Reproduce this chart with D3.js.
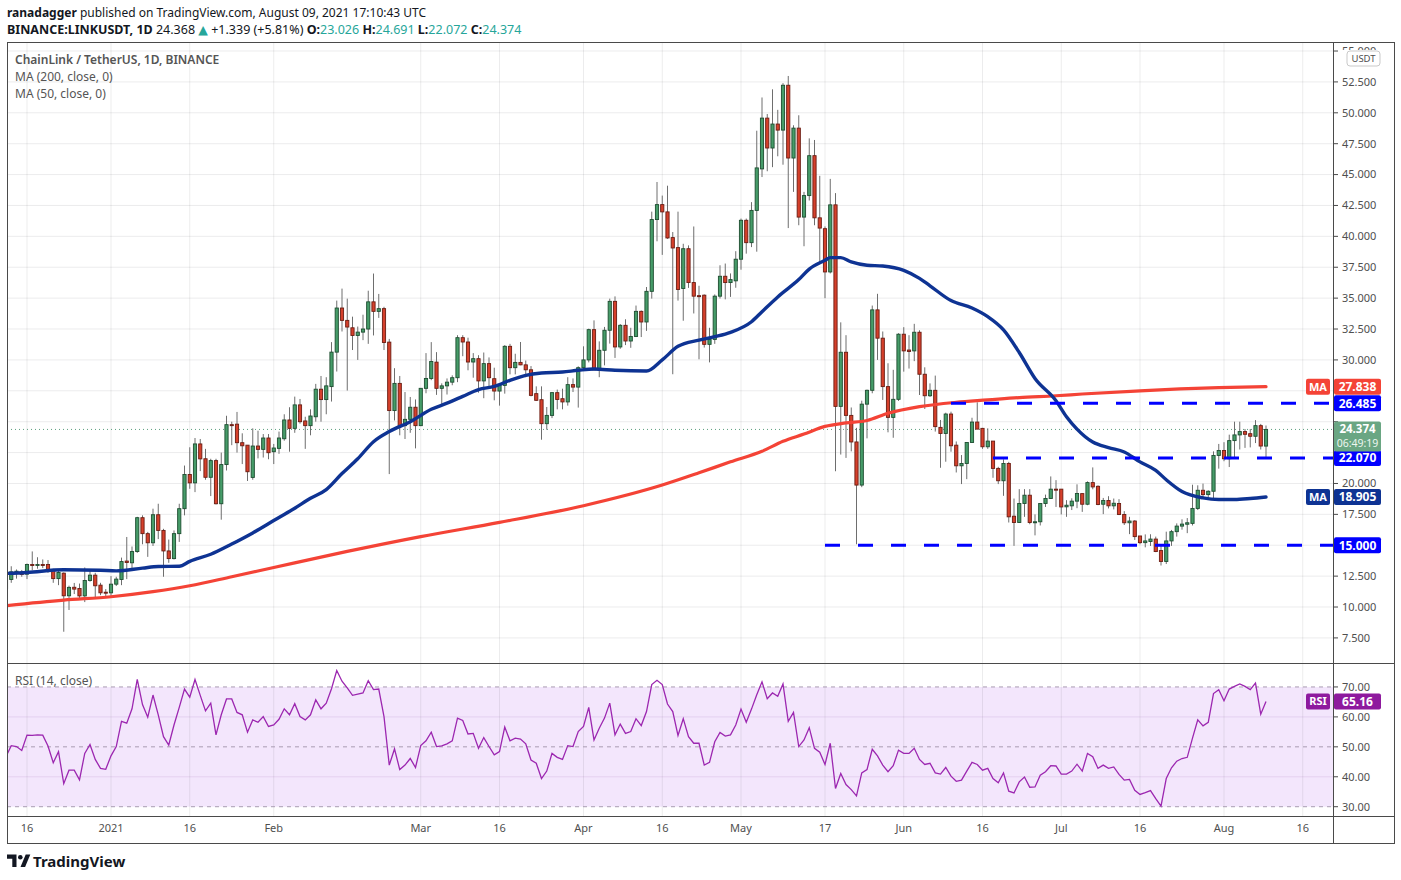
<!DOCTYPE html>
<html>
<head>
<meta charset="utf-8">
<script src="https://cdn.jsdelivr.net/npm/d3@7"></script>
<style>
  body { margin: 0; background: #fff; }
  text { font-family: "Noto Sans", "DejaVu Sans", sans-serif; }
</style>
</head>
<body>
<div class="canvas"></div>
<script>
// DAILY CANDLES [open, high, low, close], first day 2020-12-12
const firstDay = "2020-12-12";

const candlesDec = [
  [11.5,12.3,11.4,12.2],[12.23,13.3,11.96,12.85],[12.85,13.04,12.3,12.9],[12.83,13.0,12.45,12.64],[12.66,13.52,12.26,13.44],
  [13.44,14.5,12.98,13.42],[13.42,14.03,13.1,13.44],[13.44,13.85,13.15,13.42],[13.44,13.8,12.77,12.98],[12.98,13.1,11.96,12.3],
  [12.3,12.95,11.77,12.8],[12.74,12.8,8.0,10.91],[10.91,11.73,9.76,11.59],[11.6,11.95,11.05,11.45],[11.5,11.9,10.6,10.9],
  [10.9,13.2,10.4,12.15],[12.15,13.06,12.05,12.58],[12.58,12.77,10.7,11.72],[11.77,11.96,10.96,11.15],[11.2,11.45,10.83,11.15]
];
const candlesJan = [
  [11.15,12.5,10.83,11.85],[11.85,12.45,11.7,12.26],[12.23,14.0,11.77,13.68],[13.72,15.67,12.26,13.6],[13.58,14.9,12.98,14.49],
  [14.49,17.3,14.38,17.23],[17.23,17.42,15.08,15.94],[15.94,16.08,14.06,15.2],[15.2,17.96,14.94,17.47],[17.47,18.36,15.5,16.2],
  [16.2,16.33,12.45,14.54],[14.54,15.46,13.58,13.92],[13.92,16.2,13.85,15.94],[15.94,18.36,15.27,17.96],[17.96,21.45,17.42,20.73],
  [20.73,22.93,19.57,20.05],[20.05,23.68,19.3,23.2],[23.2,23.6,21.0,21.99],[22.0,22.8,20.3,20.5],[20.5,22.0,18.98,21.85],
  [21.85,22.0,18.3,18.36],[18.36,22.5,17.07,21.53],[21.53,25.48,21.05,24.76],[24.76,25.0,23.1,24.72],[24.8,25.79,22.5,23.3],
  [23.3,24.06,21.57,23.05],[23.1,23.1,20.2,20.95],[20.49,24.46,20.3,23.03],[23.03,24.27,22.03,22.76],[22.76,24.0,22.1,23.68],
  [23.68,24.0,21.96,22.49]
];
const candlesFeb = [
  [22.57,23.2,21.57,22.87],[22.84,24.2,22.4,23.68],[23.62,25.6,23.46,25.14],[25.14,26.17,22.57,24.46],[24.46,27.03,24.1,26.36],
  [26.36,26.84,24.84,25.0],[25.06,25.4,22.8,24.68],[24.68,26.0,23.9,25.46],[25.4,28.06,25.0,27.63],[27.63,28.7,25.0,26.79],
  [26.79,28.6,25.6,27.9],[27.84,31.44,26.63,30.63],[30.63,34.8,29.06,34.2],[34.2,35.77,32.3,33.2],[33.2,34.96,27.52,32.66],
  [32.6,33.5,30.8,31.98],[31.98,32.7,30.0,32.25],[32.25,33.66,31.6,32.5],[32.5,35.6,31.3,34.7],[34.7,36.99,31.98,33.93],
  [33.93,35.34,33.4,34.15],[34.15,34.3,30.8,31.41],[31.44,31.7,20.76,25.9],[25.9,29.33,25.1,28.1],[28.1,28.7,23.9,24.68],
  [24.68,27.4,23.6,25.19],[25.19,27.0,24.1,26.17],[26.17,26.8,22.84,24.68]
];
const candlesMar = [
  [24.68,27.7,24.64,27.7],[27.7,30.55,27.3,28.5],[28.5,31.44,28.36,29.87],[29.82,30.63,27.17,27.7],[27.7,28.1,26.36,27.9],
  [27.9,28.5,27.2,28.2],[28.2,28.75,27.95,28.56],[28.56,32.0,28.2,31.8],[31.8,32.0,30.3,31.45],[31.45,31.8,29.16,29.83],
  [29.83,30.55,28.56,30.1],[30.1,30.38,27.35,28.3],[28.3,30.6,26.9,29.7],[29.7,30.2,27.8,28.56],[28.48,29.37,26.73,27.48],
  [27.48,27.75,26.3,27.94],[27.94,31.2,27.27,31.1],[31.1,31.3,28.83,29.37],[29.37,30.5,28.83,29.8],[29.8,31.45,29.57,29.6],
  [29.6,29.95,28.6,29.2],[29.2,29.5,27.05,27.13],[27.27,27.86,26.68,26.73],[26.78,27.86,23.54,24.84],[24.84,26.19,24.35,25.51],
  [25.51,27.4,25.29,27.35],[27.35,27.6,26.0,26.8],[26.86,27.67,26.0,26.6],[26.6,28.6,26.3,28.0],[28.0,28.5,27.4,27.8],
  [27.8,29.48,26.14,29.37]
];
const candlesApr = [
  [29.37,31.1,29.2,30.0],[30.0,32.53,29.8,32.45],[32.45,33.2,29.16,29.2],[29.2,31.5,28.6,30.78],[30.78,32.67,29.56,32.4],
  [32.4,34.96,31.32,34.74],[34.74,35.14,30.16,31.05],[31.05,32.9,30.9,32.8],[32.8,33.29,31.2,31.53],[31.53,32.6,30.98,31.9],
  [31.9,34.4,31.85,33.93],[33.93,34.0,31.85,33.07],[33.07,35.9,32.35,35.55],[35.55,42.0,34.96,41.36],[41.36,44.4,39.6,42.57],
  [42.57,43.3,38.5,41.98],[41.98,44.1,39.8,39.87],[39.9,40.35,28.84,39.06],[39.09,42.0,34.8,35.7],[35.78,39.4,33.17,39.0],
  [39.0,39.27,35.83,36.26],[36.26,40.8,33.76,35.16],[35.2,36.0,30.05,35.18],[35.24,35.3,31.0,31.26],[31.26,32.6,29.8,31.66],
  [31.66,35.3,31.3,35.16],[35.16,37.66,34.97,36.77],[36.77,37.8,34.9,36.26],[36.26,37.0,35.1,36.5],[36.4,38.8,35.84,38.15]
];
const candlesMay = [
  [38.15,41.44,37.3,41.3],[41.3,41.44,38.6,39.49],[39.49,42.77,39.13,42.1],[42.1,48.55,38.76,45.54],[45.46,51.24,44.8,49.57],
  [49.57,49.9,45.27,47.15],[47.15,51.9,45.6,49.09],[49.09,50.24,46.48,48.6],[48.6,52.4,45.8,52.23],[52.23,52.98,40.67,46.34],
  [46.34,48.99,43.6,48.76],[48.76,49.8,40.9,41.56],[41.56,43.6,39.2,43.3],[43.3,47.93,42.9,46.53],[46.53,47.8,40.9,41.5],
  [41.5,44.9,37.93,40.67],[40.62,40.8,35.0,37.12],[37.12,44.65,37.0,42.55],[42.55,43.5,20.99,26.24],[26.24,33.04,22.34,30.62],
  [30.62,32.0,22.07,25.51],[25.51,26.15,22.6,23.36],[23.36,24.5,15.08,19.87],[19.87,26.7,19.7,26.42],[26.42,27.6,23.65,27.54],
  [27.54,34.4,27.3,34.05],[34.05,35.35,30.0,31.76],[31.76,32.3,26.76,27.84],[27.84,29.73,24.14,25.35],[25.35,29.2,23.7,26.81],
  [26.81,32.16,26.68,32.08]
];
const candlesJun = [
  [32.08,32.65,29.05,30.73],[30.8,32.0,29.3,30.68],[30.73,32.92,29.9,32.24],[32.24,32.4,27.16,28.84],[28.84,29.4,26.03,27.1],
  [27.1,28.1,27.0,27.54],[27.54,28.73,24.2,24.6],[24.54,25.14,21.27,24.05],[24.05,25.73,21.76,25.62],[25.62,25.81,22.57,23.05],
  [23.1,23.4,20.89,21.43],[21.43,22.3,19.95,21.62],[21.62,23.32,20.35,23.32],[23.32,25.32,23.3,24.97],[24.97,26.57,24.4,24.4],
  [24.46,24.5,22.8,22.97],[22.97,24.46,22.8,23.43],[23.43,23.43,20.46,21.22],[21.22,21.35,19.95,20.22],[20.22,21.95,19.0,21.62],
  [21.62,21.75,16.84,17.3],[17.35,18.78,14.95,16.84],[16.84,19.54,16.84,18.38],[18.38,19.54,17.3,19.05],[19.05,19.54,16.7,16.84],
  [16.89,17.5,15.8,16.9],[16.9,18.38,16.6,18.38],[18.38,19.1,18.1,18.78],[18.78,20.57,18.78,19.54],[19.54,20.27,18.1,19.49]
];
const candlesJul = [
  [19.54,19.54,17.5,18.1],[18.11,18.65,17.3,18.24],[18.19,18.8,17.85,18.57],[18.57,19.93,18.0,19.19],[19.18,19.18,17.7,18.32],
  [18.32,20.17,18.24,20.07],[20.07,21.3,19.53,19.72],[19.77,19.85,18.24,18.3],[18.32,18.83,17.52,18.62],[18.62,18.97,17.98,18.19],
  [18.19,18.78,17.9,18.4],[18.38,18.73,17.44,17.49],[17.49,17.76,16.64,16.82],[16.82,17.3,15.9,16.96],[16.96,17.03,15.43,15.7],
  [15.75,15.75,15.08,15.21],[15.21,15.88,14.83,15.35],[15.3,15.89,14.94,15.5],[15.5,15.7,14.44,14.49],[14.57,14.97,13.36,13.69],
  [13.69,16.1,13.48,15.35],[15.35,16.24,14.95,16.1],[16.1,16.77,15.7,16.55],[16.55,17.1,16.26,16.71],[16.7,17.2,15.98,16.82],
  [16.77,19.9,16.6,17.98],[17.98,19.85,17.85,19.45],[19.45,19.99,18.91,19.1],[19.1,19.45,18.9,19.37],[19.37,22.6,18.78,22.27],
  [22.27,23.2,21.2,22.67]
];
const candlesAug = [
  [22.67,23.34,21.8,22.0],[22.0,23.95,21.33,23.47],[23.47,25.0,22.0,23.93],[23.93,25.0,22.75,24.2],[24.2,24.41,22.88,23.98],
  [24.03,24.41,22.92,23.82],[23.82,25.13,23.27,24.68],[24.68,24.82,22.75,23.03],[23.026,24.691,22.072,24.374]
];

// RSI (14) one value per day, same days as the candles
const rsiValues = [
  46.7,50.4,50.1,48.8,53.9,53.8,54.0,53.9,50.3,44.7, 48.4,37.7,42.2,42.2,39.0,47.8,50.8,45.8,42.8,42.5,
  47.0,50.1,58.5,57.9,62.7,72.5,64.1,59.9,67.3,60.7, 53.4,50.6,57.3,63.2,69.3,66.6,72.5,67.2,62.0,64.6,
  54.0,60.7,66.0,66.0,61.5,60.7,54.9,59.0,58.2,60.1, 56.8,57.3,59.2,62.7,60.7,64.4,60.1,59.0,60.7,65.7,
  62.7,64.6,69.4,75.5,71.9,69.7,67.2,67.6,68.0,72.1, 69.1,69.3,60.1,43.9,49.3,42.4,43.9,46.1,43.1,50.4,
  52.0,54.9,50.1,50.3,51.0,52.0,59.6,58.8,54.3,54.5, 49.5,53.1,50.1,47.3,48.4,56.6,52.0,52.9,52.6,51.0,
  45.6,44.5,39.4,41.9,47.8,46.5,45.8,50.4,50.1,55.1, 56.8,63.2,52.3,56.2,59.6,64.6,54.0,57.6,54.5,55.1,
  59.4,57.1,61.8,70.8,72.2,
  70.8,64.3,61.8,53.8,59.4,53.4,51.2,51.2,43.9,44.8, 51.7,54.8,53.6,54.0,57.3,62.6,58.2,62.6,67.4,71.7,
  66.1,68.0,66.9,71.0,58.5,61.5,50.1,52.3,56.4,49.5, 48.2,44.1,51.2,36.1,41.1,37.4,35.7,33.6,41.3,42.4,
  49.2,47.0,43.9,41.7,43.7,48.9,47.8,47.8,49.5,45.8, 44.1,44.5,41.3,40.9,43.1,40.2,38.5,38.9,41.9,44.8,
  44.1,42.2,42.8,39.4,38.0,41.3,35.2,34.6,38.3,39.9, 36.5,36.6,40.5,41.7,43.7,43.6,40.9,40.9,41.9,44.2,
  41.9,47.8,46.7,42.8,43.9,42.8,43.3,40.8,38.9,39.1, 35.5,34.1,34.7,35.4,32.7,30.2,39.4,43.0,45.2,46.1,
  46.5,52.9,59.0,57.0,58.2,67.8,69.1,65.4,69.3,70.2, 71.0,70.2,69.1,71.3,60.9,65.16
];

// MOVING AVERAGES [date, value]
const ma50 = [
  ["2020-12-12",12.72],["2020-12-16",12.8],["2020-12-23",13.02],["2020-12-30",12.98],["2021-01-02",12.93],
  ["2021-01-07",13.15],["2021-01-10",13.28],["2021-01-14",13.3],["2021-01-16",13.7],["2021-01-20",14.27],
  ["2021-01-24",15.1],["2021-01-28",16.0],["2021-02-01",17.0],["2021-02-05",18.0],["2021-02-08",18.8],
  ["2021-02-11",19.5],["2021-02-14",20.8],["2021-02-17",22.0],["2021-02-20",23.38],["2021-02-23",24.2],
  ["2021-02-27",25.0],["2021-03-03",26.0],["2021-03-06",26.5],["2021-03-09",27.05],["2021-03-12",27.6],
  ["2021-03-15",27.86],["2021-03-18",28.35],["2021-03-21",28.75],["2021-03-24",28.94],["2021-03-28",29.02],
  ["2021-03-31",29.16],["2021-04-03",29.26],["2021-04-07",29.16],["2021-04-13",29.1],["2021-04-16",30.0],
  ["2021-04-19",31.1],["2021-04-23",31.6],["2021-04-26",31.88],["2021-04-29",32.23],["2021-05-03",33.09],
  ["2021-05-05",33.9],["2021-05-08",35.1],["2021-05-12",36.5],["2021-05-14",37.35],["2021-05-17",38.06],
  ["2021-05-18",38.28],["2021-05-20",38.28],["2021-05-22",37.93],["2021-05-25",37.66],["2021-05-28",37.6],
  ["2021-06-01",37.25],["2021-06-04",36.6],["2021-06-06",36.0],["2021-06-10",34.8],["2021-06-14",34.2],
  ["2021-06-17",33.5],["2021-06-20",32.43],["2021-06-23",30.6],["2021-06-26",28.5],["2021-06-30",26.7],
  ["2021-07-02",25.4],["2021-07-04",24.4],["2021-07-07",23.35],["2021-07-10",22.9],["2021-07-13",22.55],
  ["2021-07-16",21.75],["2021-07-19",21.06],["2021-07-21",20.3],["2021-07-24",19.35],["2021-07-28",18.83],
  ["2021-07-31",18.7],["2021-08-03",18.7],["2021-08-06",18.78],["2021-08-09",18.905]
];
const ma200 = [
  ["2020-12-12",10.11],["2020-12-23",10.56],["2021-01-01",10.83],["2021-01-09",11.24],["2021-01-16",11.72],
  ["2021-01-24",12.45],["2021-02-01",13.2],["2021-02-15",14.5],["2021-03-01",15.7],["2021-03-16",16.85],
  ["2021-04-01",18.2],["2021-04-16",19.87],["2021-04-23",20.86],["2021-04-29",21.75],["2021-05-05",22.6],
  ["2021-05-09",23.41],["2021-05-13",24.0],["2021-05-17",24.62],["2021-05-21",24.9],["2021-05-25",25.1],
  ["2021-05-29",25.68],["2021-06-04",26.22],["2021-06-11",26.57],["2021-06-17",26.76],["2021-06-23",26.95],
  ["2021-06-30",27.1],["2021-07-05",27.24],["2021-07-16",27.5],["2021-07-31",27.75],["2021-08-09",27.838]
];

// HORIZONTAL LEVELS drawn by the author
const levelValues = [26.485, 22.070, 15.000];
const levelStarts = ["2021-06-10", "2021-06-18", "2021-05-17"];

// TICKS
const priceTicks = [7.5, 10, 12.5, 15, 17.5, 20, 22.5, 25, 27.5, 30, 32.5, 35, 37.5, 40, 42.5, 45, 47.5, 50, 52.5, 55];
const rsiTicks = [30, 40, 50, 60, 70];
const xTickDates = ["2020-12-16","2021-01-01","2021-01-16","2021-02-01","2021-03-01","2021-03-16","2021-04-01","2021-04-16",
                    "2021-05-01","2021-05-17","2021-06-01","2021-06-16","2021-07-01","2021-07-16","2021-08-01","2021-08-16"];
const xTickLabels = ["16","2021","16","Feb","Mar","16","Apr","16","May","17","Jun","16","Jul","16","Aug","16"];

const lastPrice = 24.374;
const lastMa200 = 27.838;
const lastMa50 = 18.905;
const lastRsi = 65.16;

// ---------------------------------------------------------------------------
const parse = d3.utcParse("%Y-%m-%d");
const ohlc = [].concat(candlesDec, candlesJan, candlesFeb, candlesMar, candlesApr, candlesMay, candlesJun, candlesJul, candlesAug);
const day0 = parse(firstDay);
const candles = ohlc.map((c, i) => ({ date: d3.utcDay.offset(day0, i), o: c[0], h: c[1], l: c[2], c: c[3] }));

// LAYOUT
const L = 7, R = 1333, OR = 1394, T = 42, MB = 663, RB = 816, XB = 843;

const svg = d3.select(".canvas").append("svg")
  .attr("width", 1401)
  .attr("height", 880);

const x = d3.scaleUtc()
  .domain([parse("2020-12-16"), parse("2021-08-16")])
  .range([27, 1302.75]);
const y = d3.scaleLinear().domain([5.47, 55.73]).range([MB, T]);
const yr = d3.scaleLinear().domain([26.9, 78.0]).range([RB, MB]);

const defs = svg.append("defs");
defs.append("clipPath").attr("id", "mainClip")
  .append("rect").attr("x", L).attr("y", T).attr("width", R - L).attr("height", MB - T);
defs.append("clipPath").attr("id", "rsiClip")
  .append("rect").attr("x", L).attr("y", MB).attr("width", R - L).attr("height", RB - MB);
defs.append("clipPath").attr("id", "axisTopClip")
  .append("rect").attr("x", R).attr("y", T).attr("width", OR - R).attr("height", 8);

// RSI BAND
svg.append("rect")
  .attr("x", L).attr("y", yr(70)).attr("width", R - L).attr("height", yr(30) - yr(70))
  .attr("fill", "#f3e6fc");

// GRID
const grid = svg.append("g");
grid.selectAll(".vg").data(xTickDates).enter().append("line")
  .attr("x1", d => x(parse(d))).attr("x2", d => x(parse(d)))
  .attr("y1", T).attr("y2", RB)
  .attr("stroke", "rgba(42,46,57,0.09)");
grid.selectAll(".hg").data(priceTicks).enter().append("line")
  .attr("x1", L).attr("x2", R).attr("y1", d => y(d)).attr("y2", d => y(d))
  .attr("stroke", "rgba(42,46,57,0.09)");
grid.selectAll(".rg").data([40, 60]).enter().append("line")
  .attr("x1", L).attr("x2", R).attr("y1", d => yr(d)).attr("y2", d => yr(d))
  .attr("stroke", "rgba(120,60,160,0.12)");
grid.selectAll(".rd").data([30, 50, 70]).enter().append("line")
  .attr("x1", L).attr("x2", R).attr("y1", d => yr(d)).attr("y2", d => yr(d))
  .attr("stroke", "#a99cb2").attr("stroke-dasharray", "4 4");

// MAIN PANE
const main = svg.append("g").attr("clip-path", "url(#mainClip)");

// last price dotted line
main.append("line")
  .attr("x1", L).attr("x2", R).attr("y1", y(lastPrice)).attr("y2", y(lastPrice))
  .attr("stroke", "#5b9e7e").attr("stroke-dasharray", "1 3");

// candles: wicks then bodies
main.selectAll(".wick").data(candles).enter().append("line")
  .attr("x1", d => x(d.date)).attr("x2", d => x(d.date))
  .attr("y1", d => y(d.h)).attr("y2", d => y(d.l))
  .attr("stroke", "#6e6e6e").attr("stroke-width", 1);

main.selectAll(".body").data(candles).enter().append("rect")
  .attr("x", d => x(d.date) - 1.6)
  .attr("width", 3.2)
  .attr("y", d => y(Math.max(d.o, d.c)))
  .attr("height", d => Math.max(1, Math.abs(y(d.o) - y(d.c))))
  .attr("fill", d => d.c >= d.o ? "#469c69" : "#d5402b")
  .attr("stroke", d => d.c >= d.o ? "#1d4d30" : "#6a1c12")
  .attr("stroke-width", 0.9);

// moving averages
const maLine = d3.line()
  .x(d => x(parse(d[0])))
  .y(d => y(d[1]))
  .curve(d3.curveMonotoneX);

main.append("path").datum(ma200)
  .attr("d", maLine).attr("fill", "none")
  .attr("stroke", "#f44336").attr("stroke-width", 3.2).attr("stroke-linecap", "round");
main.append("path").datum(ma50)
  .attr("d", maLine).attr("fill", "none")
  .attr("stroke", "#0e3393").attr("stroke-width", 3.4).attr("stroke-linecap", "round");

// horizontal levels
main.selectAll(".level").data(levelValues).enter().append("line")
  .attr("x1", (d, i) => x(parse(levelStarts[i]))).attr("x2", R)
  .attr("y1", d => y(d)).attr("y2", d => y(d))
  .attr("stroke", "#0000ff").attr("stroke-width", 3)
  .attr("stroke-dasharray", "15 18");

// RSI PANE
const rsiPane = svg.append("g").attr("clip-path", "url(#rsiClip)");
const rsiLine = d3.line()
  .x((d, i) => x(candles[i].date))
  .y(d => yr(d));
rsiPane.append("path").datum(rsiValues)
  .attr("d", rsiLine).attr("fill", "none")
  .attr("stroke", "#9c27b0").attr("stroke-width", 1.3);

// BORDERS
const frame = svg.append("g").attr("stroke", "#4a4a4a").attr("stroke-width", 1).attr("shape-rendering", "crispEdges");
frame.append("rect").attr("x", L).attr("y", T).attr("width", OR - L).attr("height", XB - T).attr("fill", "none");
frame.append("line").attr("x1", L).attr("x2", OR).attr("y1", MB).attr("y2", MB);
frame.append("line").attr("x1", L).attr("x2", OR).attr("y1", RB).attr("y2", RB);
frame.append("line").attr("x1", R).attr("x2", R).attr("y1", T).attr("y2", XB);

// PRICE AXIS (labels hidden where a value box sits on top, as on TradingView)
const axisText = "#4f4f4f";
const boxCentres = [lastMa200, levelValues[0], levelValues[1], lastMa50, levelValues[2]].map(y)
  .concat([y(lastPrice) + 6.5]);
const boxHalf = [8, 8, 8, 8, 8, 15];
const hidden = v => boxCentres.some((c, i) => Math.abs(y(v) - c) < boxHalf[i] + 2);

const pAxis = svg.append("g");
pAxis.selectAll(".pt").data(priceTicks).enter().append("line")
  .attr("x1", R).attr("x2", R + 5).attr("y1", d => y(d)).attr("y2", d => y(d))
  .attr("stroke", "#4a4a4a");
pAxis.selectAll(".pl").data(priceTicks.filter(v => !hidden(v))).enter().append("text")
  .attr("x", R + 9).attr("y", d => y(d)).attr("dy", "0.35em")
  .attr("font-size", 11).attr("fill", axisText)
  .attr("clip-path", d => d === 55 ? "url(#axisTopClip)" : null)
  .text(d3.format(".3f"));

// USDT badge
svg.append("rect").attr("x", 1347).attr("y", 51).attr("width", 33).attr("height", 15).attr("rx", 3)
  .attr("fill", "#fff").attr("stroke", "#c9c9c9");
svg.append("text").attr("x", 1363.5).attr("y", 58.5).attr("dy", "0.35em")
  .attr("text-anchor", "middle").attr("font-size", 9.5).attr("fill", axisText).text("USDT");

// RSI AXIS
const rAxis = svg.append("g");
rAxis.selectAll(".rt").data(rsiTicks).enter().append("line")
  .attr("x1", R).attr("x2", R + 5).attr("y1", d => yr(d)).attr("y2", d => yr(d))
  .attr("stroke", "#4a4a4a");
rAxis.selectAll(".rl").data(rsiTicks).enter().append("text")
  .attr("x", R + 9).attr("y", d => yr(d)).attr("dy", "0.35em")
  .attr("font-size", 11).attr("fill", axisText)
  .text(d3.format(".2f"));

// TIME AXIS
svg.selectAll(".xl").data(xTickDates).enter().append("text")
  .attr("x", d => x(parse(d))).attr("y", 828).attr("dy", "0.35em")
  .attr("text-anchor", "middle").attr("font-size", 11).attr("fill", axisText)
  .text((d, i) => xTickLabels[i]);

// AXIS LABEL BOXES
function valueBox(yPos, value, color, tag) {
  const g = svg.append("g");
  g.append("rect").attr("x", R + 1).attr("y", yPos - 8).attr("width", 47).attr("height", 16).attr("rx", 2)
    .attr("fill", color);
  g.append("text").attr("x", R + 24.5).attr("y", yPos).attr("dy", "0.36em")
    .attr("text-anchor", "middle").attr("font-size", 12).attr("font-weight", "bold").attr("fill", "#fff")
    .text(value);
  if (tag) {
    g.append("rect").attr("x", 1306).attr("y", yPos - 8).attr("width", 24).attr("height", 16).attr("rx", 2)
      .attr("fill", color);
    g.append("text").attr("x", 1318).attr("y", yPos).attr("dy", "0.36em")
      .attr("text-anchor", "middle").attr("font-size", 11).attr("font-weight", "bold").attr("fill", "#fff")
      .text(tag);
  }
}
const fmt3 = d3.format(".3f");
valueBox(y(lastMa200), fmt3(lastMa200), "#f44336", "MA");
valueBox(y(levelValues[0]), fmt3(levelValues[0]), "#0000ff");
valueBox(y(levelValues[1]), fmt3(levelValues[1]), "#0000ff");
valueBox(y(lastMa50), fmt3(lastMa50), "#0e3393", "MA");
valueBox(y(levelValues[2]), fmt3(levelValues[2]), "#0000ff");
valueBox(yr(lastRsi), d3.format(".2f")(lastRsi), "#8e1a9e", "RSI");

// last price box with countdown
const lp = svg.append("g");
lp.append("rect").attr("x", R + 1).attr("y", y(lastPrice) - 8).attr("width", 47).attr("height", 30).attr("rx", 2)
  .attr("fill", "#6aa683");
lp.append("text").attr("x", R + 24.5).attr("y", y(lastPrice) - 0.5).attr("dy", "0.36em")
  .attr("text-anchor", "middle").attr("font-size", 11.5).attr("font-weight", "bold").attr("fill", "#fff")
  .text(fmt3(lastPrice));
lp.append("text").attr("x", R + 24.5).attr("y", y(lastPrice) + 14).attr("dy", "0.36em")
  .attr("text-anchor", "middle").attr("font-size", 10.5).attr("fill", "#eef6f1")
  .text("06:49:19");

// LEGENDS
const legend = svg.append("g").attr("font-size", 12).attr("fill", "#555");
legend.append("text").attr("x", 15).attr("y", 60).attr("dy", "0.35em").attr("font-weight", 600)
  .text("ChainLink / TetherUS, 1D, BINANCE");
legend.append("text").attr("x", 15).attr("y", 77).attr("dy", "0.35em").text("MA (200, close, 0)");
legend.append("text").attr("x", 15).attr("y", 94).attr("dy", "0.35em").text("MA (50, close, 0)");
legend.append("text").attr("x", 15).attr("y", 681).attr("dy", "0.35em").text("RSI (14, close)");

// HEADER
const h1 = svg.append("text").attr("x", 7).attr("y", 17).attr("font-size", 12).attr("fill", "#131722");
h1.append("tspan").attr("font-weight", "bold").text("ranadagger");
h1.append("tspan").text(" published on TradingView.com, August 09, 2021 17:10:43 UTC");

const teal = "#26a69a";
const h2 = svg.append("text").attr("x", 7).attr("y", 34).attr("font-size", 12.5).attr("fill", "#131722");
h2.append("tspan").attr("font-weight", "bold").text("BINANCE:LINKUSDT, 1D");
h2.append("tspan").text("  24.368 ");
h2.append("tspan").attr("fill", teal).text("▲");
h2.append("tspan").text(" +1.339 (+5.81%) ");
[["O:", "23.026"], ["H:", "24.691"], ["L:", "22.072"], ["C:", "24.374"]].forEach((p, i) => {
  h2.append("tspan").attr("font-weight", "bold").text((i ? " " : "") + p[0]);
  h2.append("tspan").attr("fill", teal).text(p[1]);
});

// TRADINGVIEW LOGO
const logo = svg.append("g").attr("fill", "#131722");
logo.append("path").attr("d", "M7,854.5 h9.5 v12.5 h-4.2 v-8.3 h-5.3 z");
logo.append("circle").attr("cx", 20.3).attr("cy", 857.2).attr("r", 2.3);
logo.append("path").attr("d", "M20.5,867 l5.2,-12.5 h4.6 l-5.2,12.5 z");
svg.append("text").attr("x", 33).attr("y", 866.5).attr("font-size", 15).attr("font-weight", "bold")
  .attr("fill", "#131722").text("TradingView");
</script>
</body>
</html>
